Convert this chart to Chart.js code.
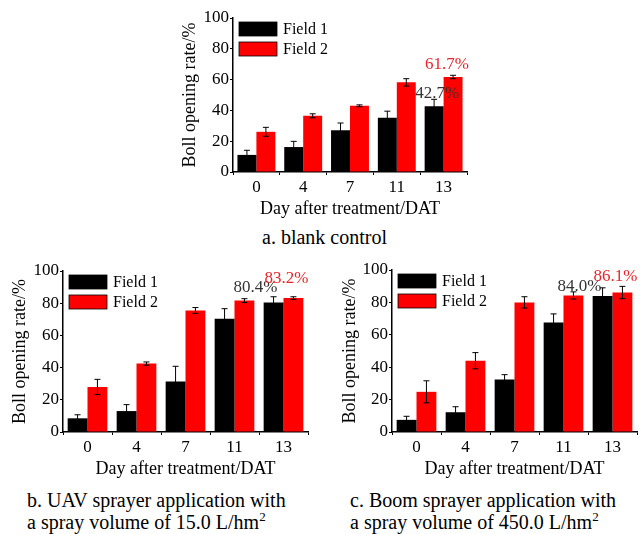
<!DOCTYPE html>
<html lang="en">
<head>
<meta charset="UTF-8">
<title>Boll opening rate</title>
<script src="https://cdn.jsdelivr.net/npm/chart.js"></script>
<style>
  body { margin:0; width:640px; height:534px; background:#fff; position:relative; overflow:hidden;
         font-family:"Liberation Serif","Times New Roman",serif; color:#000; }
  .box { position:absolute; }
  .cap { position:absolute; font-size:20px; line-height:22px; white-space:nowrap; }
  .cap sup { font-size:13px; line-height:0; }
</style>
</head>
<body>
  <div class="box" style="left:170px;top:0;width:310px;height:225px"><canvas id="chartA"></canvas></div>
  <div class="box" style="left:0;top:250px;width:320px;height:235px"><canvas id="chartB"></canvas></div>
  <div class="box" style="left:330px;top:250px;width:310px;height:235px"><canvas id="chartC"></canvas></div>

  <div class="cap" style="left:262px;top:226px">a. blank control</div>
  <div class="cap" style="left:27px;top:489px">b. UAV sprayer application with<br>a spray volume of 15.0 L/hm<sup>2</sup></div>
  <div class="cap" style="left:350px;top:489px">c. Boom sprayer application with<br>a spray volume of 450.0 L/hm<sup>2</sup></div>

<script>
// days after treatment
const days = ['0', '4', '7', '11', '13'];
const yTicks = [0, 20, 40, 60, 80, 100];

// a. blank control
const blankF1    = [11.1, 16.2, 27.1, 35.3, 42.7];
const blankF1Err = [3.0, 3.7, 4.7, 4.2, 4.5];
const blankF2    = [26.1, 36.5, 43.0, 58.2, 61.7];
const blankF2Err = [2.9, 1.3, 0.6, 2.4, 1.1];

// b. UAV sprayer 15.0 L/hm2
const uavF1    = [8.5, 13.0, 31.3, 70.3, 80.4];
const uavF1Err = [2.2, 4.0, 9.5, 6.3, 3.6];
const uavF2    = [28.0, 42.5, 75.5, 81.6, 83.2];
const uavF2Err = [4.7, 1.0, 1.8, 1.2, 0.8];

// c. Boom sprayer 450.0 L/hm2
const boomF1    = [7.5, 12.2, 32.4, 67.6, 84.0];
const boomF1Err = [2.2, 3.4, 3.0, 5.3, 5.0];
const boomF2    = [24.8, 44.0, 80.0, 84.3, 86.1];
const boomF2Err = [6.8, 5.0, 3.5, 2.2, 3.8];

const FONT = '"Liberation Serif", "Times New Roman", serif';
Chart.defaults.font.family = FONT;
Chart.defaults.color = '#000';

// error bars, legend and end-value labels drawn on top of the bars
const extras = {
  id: 'extras',
  afterDatasetsDraw(chart, args, o) {
    const ctx = chart.ctx, y = chart.scales.y, a = chart.chartArea;
    ctx.save();
    // error bars
    chart.data.datasets.forEach((ds, di) => {
      const meta = chart.getDatasetMeta(di);
      meta.data.forEach((bar, i) => {
        const e = ds.err[i], v = ds.data[i];
        const yt = y.getPixelForValue(v + e), yb = y.getPixelForValue(v - e);
        ctx.strokeStyle = '#000'; ctx.lineWidth = 1;
        ctx.beginPath();
        ctx.moveTo(bar.x, yt); ctx.lineTo(bar.x, yb);
        ctx.moveTo(bar.x - 3, yt); ctx.lineTo(bar.x + 3, yt);
        ctx.moveTo(bar.x - 3, yb); ctx.lineTo(bar.x + 3, yb);
        ctx.stroke();
      });
    });
    // legend
    ctx.font = '16px ' + FONT;
    ctx.textBaseline = 'middle'; ctx.textAlign = 'left';
    chart.data.datasets.forEach((ds, di) => {
      const bx = a.left + 6, by = a.top + 4 + di * 20;
      ctx.fillStyle = ds.backgroundColor;
      ctx.fillRect(bx, by, 38, 14);
      ctx.strokeStyle = '#000'; ctx.lineWidth = 0.8;
      ctx.strokeRect(bx, by, 38, 14);
      ctx.fillStyle = '#000';
      ctx.fillText(ds.label, bx + 44, by + 8);
    });
    // value labels on the last day
    ctx.font = '17px ' + FONT;
    ctx.textAlign = 'center';
    o.labels.forEach((l, di) => {
      const bar = chart.getDatasetMeta(di).data[4];
      const v = chart.data.datasets[di].data[4];
      ctx.fillStyle = l.color;
      ctx.fillText(v.toFixed(1) + '%', bar.x + l.dx, y.getPixelForValue(v) + l.dy);
    });
    ctx.restore();
  }
};

function makeChart(id, f1, f1Err, f2, f2Err, yWidth, pad, labels) {
  return new Chart(document.getElementById(id), {
    type: 'bar',
    data: {
      labels: days,
      datasets: [
        { label: 'Field 1', data: f1, err: f1Err, backgroundColor: '#000000' },
        { label: 'Field 2', data: f2, err: f2Err, backgroundColor: '#ff0000' }
      ]
    },
    options: {
      responsive: true, maintainAspectRatio: false, animation: false,
      layout: { padding: pad },
      datasets: { bar: { categoryPercentage: 0.81, barPercentage: 1 } },
      plugins: { legend: { display: false }, tooltip: { enabled: false }, extras: { labels } },
      scales: {
        x: {
          afterFit: s => { s.height = 48; },
          grid: { drawOnChartArea: false, tickLength: 3, color: '#000', lineWidth: 1 },
          border: { color: '#000', width: 1.5 },
          ticks: { font: { size: 17 }, padding: 2, color: '#000' },
          title: { display: true, text: 'Day after treatment/DAT', font: { size: 18 }, padding: 0, color: '#000' }
        },
        y: {
          min: 0, max: 100,
          afterFit: s => { s.width = yWidth; },
          afterBuildTicks: s => { s.ticks = yTicks.map(v => ({ value: v })); },
          grid: { drawOnChartArea: false, tickLength: 3, color: '#000', lineWidth: 1 },
          border: { color: '#000', width: 1.5 },
          ticks: { font: { size: 17 }, padding: 1, color: '#000' },
          title: { display: true, text: 'Boll opening rate/%', font: { size: 18 }, padding: { top: 9 }, color: '#000' }
        }
      }
    },
    plugins: [extras]
  });
}

makeChart('chartA', blankF1, blankF1Err, blankF2, blankF2Err, 63,
  { left: 0, top: 18, right: 13, bottom: 5 },
  [{ color: '#333', dx: 3, dy: -13 }, { color: '#e8262d', dx: -6, dy: -12 }]);
makeChart('chartB', uavF1, uavF1Err, uavF2, uavF2Err, 63,
  { left: 0, top: 21, right: 12, bottom: 5 },
  [{ color: '#333', dx: -18, dy: -15 }, { color: '#e8262d', dx: -7, dy: -20 }]);
makeChart('chartC', boomF1, boomF1Err, boomF2, boomF2Err, 62,
  { left: 0, top: 20, right: 3, bottom: 5 },
  [{ color: '#333', dx: -23, dy: -9 }, { color: '#e8262d', dx: -7, dy: -16 }]);
</script>
</body>
</html>
